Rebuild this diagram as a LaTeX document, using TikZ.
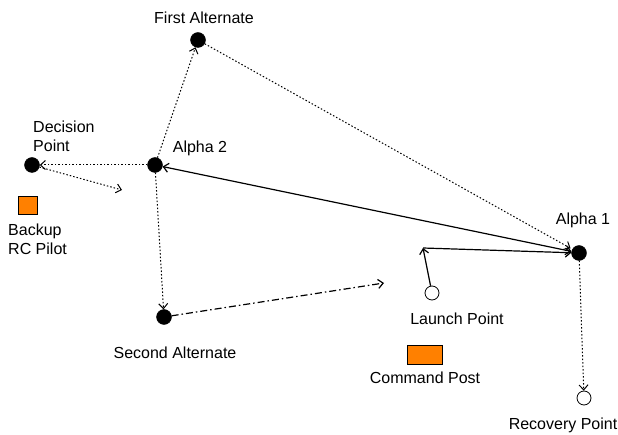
\documentclass[tikz,border=0pt]{standalone}
\usepackage{fontspec}
\setmainfont{Liberation Sans}
\usetikzlibrary{arrows.meta}
\definecolor{postOrange}{RGB}{255,128,0}

\begin{document}
\begin{tikzpicture}[%%
  x=1pt,y=-1pt,%%
  dotStyle/.style={circle,draw=black,fill=black,inner sep=0pt,minimum size=15pt},%%
  openStyle/.style={circle,draw=black,fill=white,line width=0.8pt,inner sep=0pt,minimum size=14pt},%%
  boxStyle/.style={draw=black,fill=postOrange,line width=0.8pt,inner sep=0pt},%%
  labelStyle/.style={font=\fontsize{16}{19}\selectfont,inner sep=0pt,align=left},%%
  tipStyle/.style={-{Straight Barb[length=5pt,width=9pt]}},%%
  dottedArrow/.style={tipStyle,line width=1pt,dash pattern=on 1.5pt off 2pt},%%
  solidArrow/.style={tipStyle,line width=1.2pt},%%
  dashDotArrow/.style={tipStyle,line width=1.2pt,dash pattern=on 7pt off 3pt on 1.5pt off 3pt}%%
]
%%
%% Page size of the reference.
\useasboundingbox (0,0) rectangle (618,435);
%%
%% The way points.
\node[dotStyle] (first) at (198,40) {};
\node[dotStyle] (alphaTwo) at (155,165) {};
\node[dotStyle] (decision) at (32,165) {};
\node[dotStyle] (second) at (164,317) {};
\node[dotStyle] (alphaOne) at (579,253) {};
\node[openStyle] (launch) at (432,293) {};
\node[openStyle] (recovery) at (584,398) {};
%%
%% The ground stations.
\node[boxStyle,minimum width=19pt,minimum height=18pt] (backup) at (28,205) {};
\node[boxStyle,minimum width=35pt,minimum height=19pt] (command) at (425,355) {};
%%
%% Free ends and corners of the paths.
\coordinate (decisionEnd) at (122,190);
\coordinate (secondEnd) at (384,283);
\coordinate (launchTurn) at (423,248);
%%
%% The labels.
\node[labelStyle,anchor=base] (firstLabel) at (204,24) {First Alternate};
\node[labelStyle,anchor=base] (alphaTwoLabel) at (200,153) {Alpha 2};
\node[labelStyle,anchor=north west] (decisionLabel) at (33,121) {Decision\\Point};
\node[labelStyle,anchor=north west] (backupLabel) at (8,224) {Backup\\RC Pilot};
\node[labelStyle,anchor=base] (alphaOneLabel) at (583,225) {Alpha 1};
\node[labelStyle,anchor=base] (launchLabel) at (457,324) {Launch Point};
\node[labelStyle,anchor=base] (secondLabel) at (175,358) {Second Alternate};
\node[labelStyle,anchor=base] (commandLabel) at (425,383) {Command Post};
\node[labelStyle,anchor=base] (recoveryLabel) at (563,429) {Recovery Point};
%%
%% The routes.
\draw[dottedArrow] (alphaTwo) -- (first);
\draw[dottedArrow,shorten >=2pt] (first) -- (alphaOne);
\draw[dottedArrow] (alphaTwo) -- (decision);
\draw[dottedArrow] (decision) -- (decisionEnd);
\draw[dottedArrow] (alphaTwo) -- (second);
\draw[dashDotArrow] (second) -- (secondEnd);
\draw[dottedArrow] (alphaOne) -- (recovery);
\draw[solidArrow,{Straight Barb[length=5pt,width=9pt]}-{Straight Barb[length=5pt,width=9pt]}] (alphaTwo) -- (alphaOne);
\draw[solidArrow] (launch) -- (launchTurn);
\draw[solidArrow] (launchTurn) -- (alphaOne);
\end{tikzpicture}
\end{document}
